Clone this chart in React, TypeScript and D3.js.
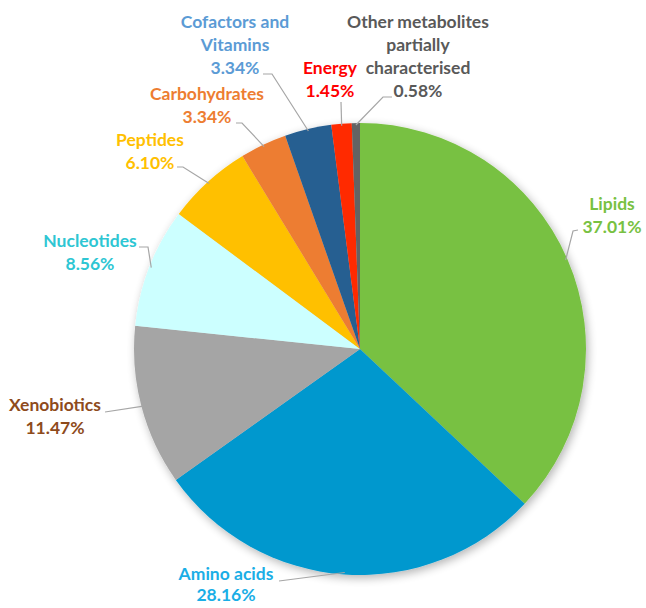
import React from "react";
import * as d3 from "d3";

const categories = [
  "Lipids",
  "Amino acids",
  "Xenobiotics",
  "Nucleotides",
  "Peptides",
  "Carbohydrates",
  "Cofactors and Vitamins",
  "Energy",
  "Other metabolites partially characterised",
];
const values = [37.01, 28.16, 11.47, 8.56, 6.1, 3.34, 3.34, 1.45, 0.58];
const labelLines = [
  ["Lipids"],
  ["Amino acids"],
  ["Xenobiotics"],
  ["Nucleotides"],
  ["Peptides"],
  ["Carbohydrates"],
  ["Cofactors and", "Vitamins"],
  ["Energy"],
  ["Other metabolites", "partially", "characterised"],
];
const sliceColors = ["#78C142", "#0598CE", "#A5A5A5", "#CCFFFF", "#FFC000", "#ED7D31", "#255E91", "#FF2A00", "#636363"];
const labelColors = ["#78C142", "#1AAEE6", "#8E4B1C", "#2EC6D3", "#FFC000", "#ED7D31", "#5B9BD5", "#FF0000", "#595959"];

// label layout: centre x, first baseline y, leader points before the slice edge
const labelPos: [number, number][] = [
  [612, 210],
  [226, 580],
  [55, 411],
  [90, 247],
  [150, 146],
  [207, 100],
  [235, 28],
  [330, 74],
  [418, 28],
];
const leaderPts: [number, number][][] = [
  [[578, 230], [573, 231]],
  [[279, 581]],
  [[105, 412]],
  [[139, 247], [148, 247]],
  [[177, 167], [183, 167]],
  [[236, 123], [242, 123]],
  [[263, 74], [272, 74]],
  [[341, 102]],
  [[392, 97], [383, 97]],
];

const W = 646;
const H = 608;
const CX = 360;
const CY = 349;
const R = 226;
const LINE_H = 23;

export default function App() {
  const data = categories.map((c, i) => ({ c, v: values[i], i }));
  const pie = d3.pie<any>().sort(null).value((d) => d.v).startAngle(0).endAngle(2 * Math.PI);
  const arcs = pie(data);
  const arc = d3.arc<any>().innerRadius(0).outerRadius(R);
  const edge = d3.arc<any>().innerRadius(R - 2).outerRadius(R - 2);

  return (
    <svg
      width={W}
      height={H}
      style={{ position: "absolute", left: 0, top: 0, background: "#fff" }}
      fontFamily="Lato, 'Open Sans', sans-serif"
      fontWeight="bold"
      fontSize={17.5}
    >
      <defs>
        <filter id="shadow" x="-20%" y="-20%" width="140%" height="140%">
          <feGaussianBlur in="SourceAlpha" stdDeviation="5" />
          <feOffset dx="2" dy="3" result="blur" />
          <feComponentTransfer>
            <feFuncA type="linear" slope="0.3" />
          </feComponentTransfer>
          <feMerge>
            <feMergeNode />
            <feMergeNode in="SourceGraphic" />
          </feMerge>
        </filter>
      </defs>
      <g transform={`translate(${CX},${CY})`} filter="url(#shadow)">
        {arcs.map((a, i) => (
          <path key={i} d={arc(a) as string} fill={sliceColors[i]} />
        ))}
      </g>
      {arcs.map((a, i) => {
        const [ex, ey] = edge.centroid(a);
        const pts = [...leaderPts[i], [ex + CX, ey + CY]];
        const line = d3.line()(pts as [number, number][]);
        return <path key={"l" + i} d={line as string} fill="none" stroke="#A6A6A6" strokeWidth={1.2} />;
      })}
      {arcs.map((a, i) => {
        const [x, y] = labelPos[i];
        const lines = [...labelLines[i], values[i].toFixed(2) + "%"];
        const lh = i === 1 ? 21 : LINE_H;
        return (
          <text key={"t" + i} x={x} y={y} textAnchor="middle" fill={labelColors[i]}>
            {lines.map((s, k) => (
              <tspan key={k} x={x} y={y + k * lh}>
                {s}
              </tspan>
            ))}
          </text>
        );
      })}
    </svg>
  );
}
